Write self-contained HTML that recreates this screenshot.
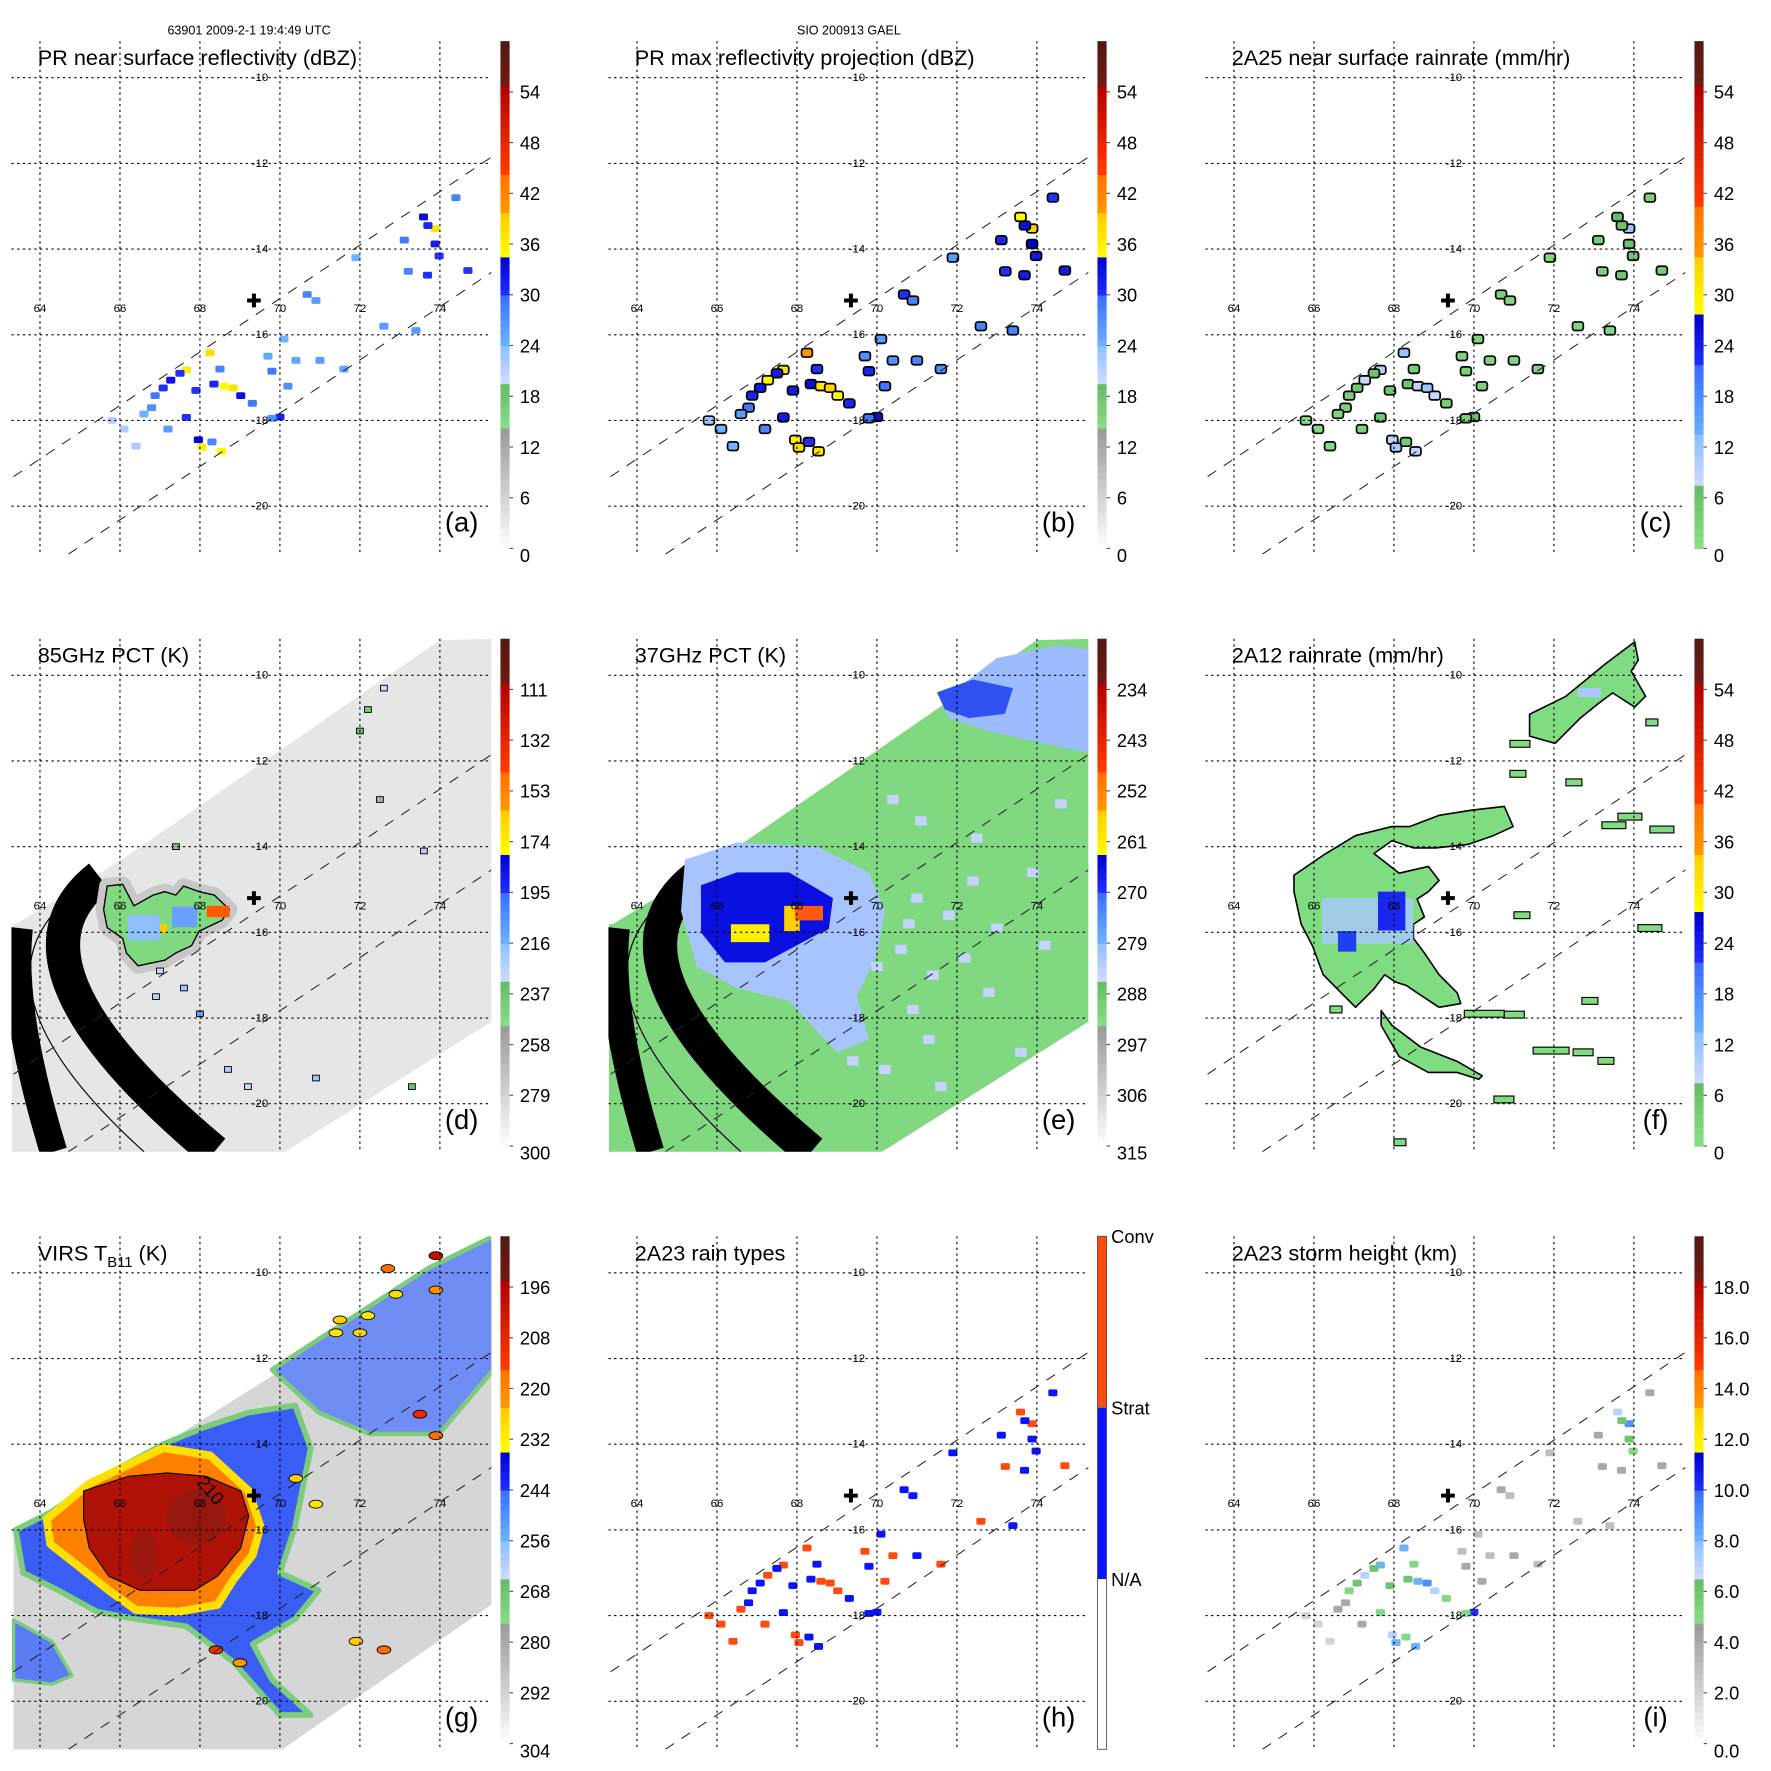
<!DOCTYPE html>
<html><head><meta charset="utf-8"><style>
body{margin:0;background:#fff}svg{display:block}
text{font-family:"Liberation Sans",sans-serif;fill:#000}
</style></head><body>
<svg id="fig" width="1771" height="1771" viewBox="0 0 1550 1550">
<text x="218" y="30" font-size="11" text-anchor="middle">63901 2009-2-1 19:4:49 UTC</text>
<text x="743" y="30" font-size="11" text-anchor="middle">SIO 200913 GAEL</text>
</svg>
<script>
const NS='http://www.w3.org/2000/svg';
// ---- data arrays ----
const lonTicks=[64,66,68,70,72,74];
const latTicks=[-10,-12,-14,-16,-18,-20];
const stormCenter=[69.35,-15.2];
const swathTopLon=[63.34,75.31], swathTopLat=[-19.31,-11.84];
const swathBotLon=[64.71,75.31], swathBotLat=[-21.12,-14.53];
const cellLon=[68.25,67.66,67.50,67.27,67.08,66.88,66.79,66.60,68.35,68.60,68.83,69.02,69.31,67.66,67.96,68.05,68.54,68.30,70.00,69.80,73.59,73.88,73.70,73.88,73.98,73.11,73.69,73.21,70.68,70.90,69.80,70.20,70.40,71.00,71.60,72.60,73.40,74.70,74.40,70.10,69.70,66.10,66.40,65.80,71.90,67.90,68.50,67.20];
const cellLat=[-16.42,-16.82,-16.90,-17.06,-17.24,-17.42,-17.70,-17.85,-17.15,-17.20,-17.24,-17.42,-17.60,-17.93,-18.45,-18.63,-18.72,-18.50,-17.92,-17.95,-13.25,-13.52,-13.45,-13.88,-14.16,-13.79,-14.61,-14.52,-15.06,-15.20,-16.85,-17.20,-16.60,-16.60,-16.80,-15.80,-15.90,-14.50,-12.80,-16.10,-16.50,-18.20,-18.60,-18.00,-14.20,-17.30,-16.80,-18.20];
const cellDbz=[38,36,30,33,30,29,27,24,31,35,37,33,29,30,34,36,35,28,31,27,33,37,31,32,30,29,30,28,28,26,29,27,25,26,25,26,26,30,28,24,25,22,22,21,24,30,28,26];
const cellRain=[12,10,6,8,5,4,3,2,5,9,12,8,4,5,9,11,9,4,6,3,7,12,6,6,5,4,5,3,3,2,3,3,2,2,2,2,2,4,3,2,2,1,1,1,2,5,4,3];
const cellType=[1,1,0,1,0,0,0,1,0,1,1,1,0,0,1,1,0,0,0,0,1,1,0,0,0,0,0,1,0,0,0,1,1,0,1,1,0,1,0,0,1,1,1,1,0,0,0,1];
const cellHgt=[8,8,6,7,6,5,4,4,6,8,9,7,5,5,7,8,8,5,10,5,7,9,6,6,5,4,4,4,4,3,4,4,3,4,3,3,3,4,4,3,3,2,2,2,3,6,5,4];
// 85 GHz (d)
const dSwathLon=[74.0,75.3,75.3,70.08,63.3,63.3,63.39,66.07], dSwathLat=[-9.18,-9.15,-18.08,-21.15,-21.15,-15.81,-15.81,-14.29];
const dBlobLon=[65.68,66.07,66.35,66.83,67.12,67.40,67.59,67.98,68.36,68.74,68.55,67.98,67.79,67.40,67.12,66.45,66.16,66.07,65.68,65.59];
const dBlobLat=[-14.92,-14.88,-15.38,-15.13,-15.05,-15.13,-14.92,-15.05,-15.13,-15.47,-15.72,-15.97,-16.31,-16.48,-16.65,-16.78,-16.48,-16.14,-15.89,-15.47];
const dSpotLon=[72.6,72.2,72.0,73.6,67.4,70.9,68.7,69.2,73.3,68.0,67.0,72.5,66.9,67.6];
const dSpotLat=[-10.3,-10.8,-11.3,-14.1,-14.0,-19.4,-19.2,-19.6,-19.6,-17.9,-16.9,-12.9,-17.5,-17.3];
const dSpotK=[230,240,235,225,240,220,225,230,235,210,230,260,225,220];
// 37 GHz (e)
const eLightLon=[65.2,66.5,68.5,69.8,70.2,70.0,69.5,69.8,69.0,67.8,66.5,65.5,65.1], eLightLat=[-14.3,-13.9,-14.0,-14.6,-15.5,-16.5,-17.5,-18.5,-18.8,-17.6,-17.3,-16.8,-15.5];
const eBlueLon=[65.6,66.5,67.8,68.9,68.8,68.0,67.2,66.2,65.6], eBlueLat=[-14.9,-14.6,-14.6,-15.2,-15.9,-16.3,-16.7,-16.7,-16.0];
const eNELon=[71.6,73.0,74.5,75.3,75.3,74.2,72.8,71.8], eNELat=[-10.6,-9.6,-9.3,-9.4,-11.8,-11.6,-11.3,-11.0];
const eNEBlueLon=[71.5,72.4,73.4,73.2,72.3,71.7], eNEBlueLat=[-10.4,-10.1,-10.3,-10.9,-11.0,-10.8];
const eSpotLon=[71.0,71.8,72.4,73.0,70.6,71.4,72.2,70.9,72.8,73.6,74.2,70.2,71.6,69.4,70.4,71.1,73.9,72.5,71.3,70.8,70.0,74.6];
const eSpotLat=[-15.2,-15.6,-14.8,-15.9,-16.4,-17.0,-16.6,-17.8,-17.4,-18.8,-16.3,-19.2,-19.6,-19.0,-12.9,-13.4,-14.6,-13.8,-18.5,-15.8,-16.8,-13.0];
const eYelLon=[66.35,67.31,67.31,66.35], eYelLat=[-15.81,-15.81,-16.23,-16.23];
const eYel2Lon=[67.68,68.07,68.07,67.68], eYel2Lat=[-15.38,-15.38,-15.97,-15.97];
const eRedLon=[67.95,68.65,68.65,67.95], eRedLat=[-15.38,-15.38,-15.72,-15.72];
// 2A12 (f)
const fMainLon=[65.50,66.23,67.04,67.95,68.40,69.13,69.94,70.76,70.98,70.49,69.85,69.04,68.49,67.95,67.50,68.13,68.86,69.13,68.86,68.58,68.76,68.49,68.49,68.76,69.13,69.58,69.67,69.13,68.58,68.31,68.04,67.77,67.50,67.04,66.68,66.23,65.96,65.68,65.50];
const fMainLat=[-14.67,-14.20,-13.74,-13.53,-13.53,-13.27,-13.15,-13.06,-13.53,-13.74,-13.95,-14.03,-14.03,-13.86,-14.16,-14.62,-14.46,-14.79,-15.05,-15.22,-15.64,-15.81,-16.14,-16.48,-16.99,-17.41,-17.66,-17.75,-17.41,-17.24,-17.16,-16.99,-17.32,-17.75,-17.41,-16.99,-16.31,-15.81,-15.05];
const fNELon=[71.39,72.30,73.29,74.02,74.11,73.93,74.29,74.02,73.47,73.11,72.66,72.03,71.39], fNELat=[-10.91,-10.49,-9.73,-9.22,-9.65,-9.90,-10.49,-10.74,-10.41,-10.66,-11.00,-11.59,-11.42];
const fArmLon=[67.68,67.95,68.67,69.58,70.21,70.12,69.58,68.86,68.13,67.68], fArmLat=[-17.83,-18.17,-18.68,-19.01,-19.35,-19.43,-19.27,-19.27,-18.90,-18.17];
const fBitLon=[69.76,70.76,71.48,72.48,73.2,73.6,74.4,70.9,72.3,74.3,74.1,66.4,71.0,72.7,73.1,68.0,70.5,70.9];
const fBitLat=[-17.9,-17.92,-18.76,-18.8,-13.5,-13.3,-13.6,-11.6,-12.5,-11.1,-15.9,-17.8,-15.6,-17.6,-19.0,-20.9,-19.9,-12.3];
const fBitW=[1.0,0.5,0.9,0.5,0.6,0.6,0.6,0.5,0.4,0.3,0.6,0.3,0.4,0.4,0.4,0.3,0.5,0.4];
// VIRS (g)
const gSwathLon=[63.34,75.34,75.34,70.0,63.34], gSwathLat=[-16.21,-9.14,-17.71,-21.16,-21.16];
const gBlueLon=[63.39,64.26,65.91,67.08,68.15,69.22,70.38,70.77,70.38,70.0,70.97,70.38,69.32,69.80,70.77,70.0,68.83,67.66,66.40,65.43,64.46,63.58];
const gBlueLat=[-16.0,-15.59,-14.59,-14.0,-13.59,-13.26,-13.09,-14.09,-15.92,-17.0,-17.41,-18.08,-18.66,-19.49,-20.32,-20.32,-19.08,-18.25,-18.08,-17.91,-17.41,-17.0];
const gWarmLon=[64.17,65.23,67.08,68.25,69.22,69.51,69.32,68.83,68.44,67.47,66.40,65.72,64.94,64.26];
const gWarmLat=[-15.75,-14.92,-14.09,-14.26,-15.09,-15.92,-16.58,-17.17,-17.75,-17.91,-17.87,-17.41,-16.83,-16.33];
const gColdLon=[65.09,66.21,67.18,68.15,69.02,69.22,69.02,68.44,67.86,67.18,66.50,65.72,65.23,65.09];
const gColdLat=[-15.09,-14.75,-14.67,-14.75,-15.09,-15.67,-16.42,-17.08,-17.41,-17.41,-17.41,-17.08,-16.42,-15.75];
const gNELon=[69.8,73.69,75.34,75.34,73.98,72.23,70.97], gNELat=[-12.26,-9.9,-9.14,-12.26,-13.76,-13.76,-13.26];
const gSWLon=[63.34,64.3,64.8,64.3,63.34], gSWLat=[-18.1,-18.6,-19.4,-19.6,-19.5];
const gHotLon=[72.7,73.9,73.9,72.9,71.5,72.2,72.0,71.4,73.5,73.9,70.4,70.9,68.4,69.0,71.9,72.6], gHotLat=[-9.9,-9.6,-10.4,-10.5,-11.1,-11.0,-11.4,-11.4,-13.3,-13.8,-14.8,-15.4,-18.8,-19.1,-18.6,-18.8];
const gHotK=[215,200,222,228,225,230,226,230,210,215,225,230,212,224,225,215];
// colour bar tick labels
const lblDbz=['0','6','12','18','24','30','36','42','48','54'];
const lbl85=['300','279','258','237','216','195','174','153','132','111'];
const lbl37=['315','306','297','288','279','270','261','252','243','234'];
const lblIR=['304','292','280','268','256','244','232','220','208','196'];
const lblHgt=['0.0','2.0','4.0','6.0','8.0','10.0','12.0','14.0','16.0','18.0'];
const lblType=['N/A','Strat','Conv'];

// ---- helpers ----
const svg=document.getElementById('fig');
function mk(tag,parent,attrs){const e=document.createElementNS(NS,tag);for(const k in attrs)e.setAttribute(k,attrs[k]);parent.appendChild(e);return e;}
const X=lon=>35+(lon-64)*35, Y=lat=>68+(-10-lat)*37.5;
const pts=(lo,la)=>lo.map((v,i)=>X(v).toFixed(1)+','+Y(la[i]).toFixed(1)).join(' ');
function hx(h){return[parseInt(h.substr(1,2),16),parseInt(h.substr(3,2),16),parseInt(h.substr(5,2),16)];}
function mixc(a,b,t){const A=hx(a),B=hx(b);return 'rgb('+A.map((v,i)=>Math.round(v+(B[i]-v)*t)).join(',')+')';}
const segA=[[0,0.235,'#ffffff','#9a9a9a'],[0.235,0.322,'#88e088','#66bd66'],[0.322,0.40,'#d4dcff','#8cc0ff'],[0.40,0.50,'#6ab4ff','#3a6cff'],[0.50,0.575,'#2030ff','#0000cc'],[0.575,0.66,'#ffff00','#ffcc00'],[0.66,0.743,'#ff9a00','#ff6e00'],[0.743,0.915,'#ff3a00','#b00000'],[0.915,1.01,'#6e1a12','#4e1a14']];
const segC=[[0,0.12,'#88e088','#66bd66'],[0.12,0.22,'#d4dcff','#8cc0ff'],[0.22,0.36,'#6ab4ff','#3a6cff'],[0.36,0.458,'#2030ff','#0000cc'],[0.458,0.576,'#ffff00','#ffcc00'],[0.576,0.68,'#ff9a00','#ff6e00'],[0.68,0.915,'#ff3a00','#b00000'],[0.915,1.01,'#6e1a12','#4e1a14']];
function cmap(seg,f){f=Math.max(0,Math.min(1,f));for(const s of seg){if(f>=s[0]&&f<s[1])return mixc(s[2],s[3],(f-s[0])/(s[1]-s[0]));}return seg[seg.length-1][3];}
const BT=36,BB=480,BH=BB-BT;

const panels=[
 {k:'a',ox:0,oy:0,title:'PR near surface reflectivity (dBZ)',lbl:lblDbz,seg:segA},
 {k:'b',ox:522.5,oy:0,title:'PR max reflectivity projection (dBZ)',lbl:lblDbz,seg:segA},
 {k:'c',ox:1045,oy:0,title:'2A25 near surface rainrate (mm/hr)',lbl:lblDbz,seg:segC},
 {k:'d',ox:0,oy:523,title:'85GHz PCT (K)',lbl:lbl85,seg:segA},
 {k:'e',ox:522.5,oy:523,title:'37GHz PCT (K)',lbl:lbl37,seg:segA},
 {k:'f',ox:1045,oy:523,title:'2A12 rainrate (mm/hr)',lbl:lblDbz,seg:segC},
 {k:'g',ox:0,oy:1046,title:'VIRS T',lbl:lblIR,seg:segA},
 {k:'h',ox:522.5,oy:1046,title:'2A23 rain types',lbl:null,seg:null},
 {k:'i',ox:1045,oy:1046,title:'2A23 storm height (km)',lbl:lblHgt,seg:segA}
];
const defs=mk('defs',svg,{});

function poly(g,lo,la,fill,stroke,sw){return mk('polygon',g,{points:pts(lo,la),fill:fill,stroke:stroke||'none','stroke-width':sw||1,'stroke-linejoin':'round'});}
function cells(g,fn,outline){
 cellLon.forEach((lo,i)=>{
  const cx=X(lo),cy=Y(cellLat[i]);
  if(outline){const o=mk('rect',g,{x:cx-5.5,y:cy-4.5,width:11,height:9,rx:3,fill:'#000'});
   
   }
  const r=mk('rect',g,{x:cx-4,y:cy-3,width:8,height:6,rx:1.5,fill:fn(i)});
  
  
 });
}

panels.forEach(p=>{
 const G=mk('g',svg,{transform:`translate(${p.ox},${p.oy})`});
 
 
 const cp=mk('clipPath',defs,{id:'clip-'+p.k});
 mk('rect',cp,{x:10,y:36,width:420,height:449});
 const M=mk('g',G,{'clip-path':`url(#clip-${p.k})`});
 
 

 // ----- fields -----
 if(p.k==='a'){cells(M,i=>cmap(segA,cellDbz[i]/60),false);}
 if(p.k==='b'){cells(M,i=>cmap(segA,(cellDbz[i]+2)/60),true);}
 if(p.k==='c'){cells(M,i=>cmap(segC,cellRain[i]/60),true);}
 if(p.k==='h'){cells(M,i=>cellType[i]?'#ff4a10':'#0a14ff',false);}
 if(p.k==='i'){cells(M,i=>cmap(segA,cellHgt[i]/20),false);}
 if(p.k==='d'||p.k==='e'){
  const base=p.k==='d'?'#e6e6e6':'#80d880';
  const sw=poly(M,dSwathLon,dSwathLat,base);
  
  
  const b2=mk('path',M,{d:`M${X(65.49)},${Y(-14.71)} Q-10,320 ${X(68.36)},${Y(-21.12)}`,fill:'none',stroke:'#000','stroke-width':30});
  
  
  const b1=mk('path',M,{d:`M${X(63.48)},${Y(-15.9)} Q8.75,361 ${X(64.34)},${Y(-21.12)}`,fill:'none',stroke:'#000','stroke-width':24});
  
  
  mk('path',M,{d:`M${X(65.0)},${Y(-15.0)} Q-40,335 ${X(66.6)},${Y(-21.12)}`,fill:'none',stroke:'#000','stroke-width':1});
  if(p.k==='d'){
   const h=poly(M,dBlobLon,dBlobLat,'#c0c0c0','#c8c8c8',14);
   
   
   const bl=poly(M,dBlobLon,dBlobLat,'#80d880','#000',1.2);
   
   
   mk('rect',M,{x:X(66.2),y:Y(-15.6),width:28,height:22,fill:'#8cc0ff'});
   mk('rect',M,{x:X(67.3),y:Y(-15.4),width:22,height:18,fill:'#6aa0ff'});
   mk('rect',M,{x:X(68.17),y:Y(-15.38),width:20,height:10,fill:'#ff5a00'});
   mk('rect',M,{x:X(67.0),y:Y(-15.8),width:6,height:8,fill:'#ffcc00'});
   dSpotLon.forEach((lo,i)=>{const s=mk('rect',M,{x:X(lo)-3,y:Y(dSpotLat[i])-2.5,width:6,height:5,fill:cmap(segA,(300-dSpotK[i])/210),stroke:'#000','stroke-width':0.8});
    
    });
  } else {
   const l=poly(M,eLightLon,eLightLat,'#a8c4ff');
   
   
   const b=poly(M,eBlueLon,eBlueLat,'#0a10e0');
   
   
   poly(M,eNELon,eNELat,'#9cbcff');
   poly(M,eNEBlueLon,eNEBlueLat,'#3050f0');
   eSpotLon.forEach((lo,i)=>{const s=mk('rect',M,{x:X(lo)-5,y:Y(eSpotLat[i])-4,width:10,height:8,fill:'#c4d4ff'});
    
    });
   poly(M,eYelLon,eYelLat,'#ffee00');
   poly(M,eYel2Lon,eYel2Lat,'#ffd000');
   poly(M,eRedLon,eRedLat,'#ff5a10');
  }
 }
 if(p.k==='f'){
  [[fMainLon,fMainLat,'main-rain-area'],[fNELon,fNELat,'ne-rain-area'],[fArmLon,fArmLat,'south-rain-band']].forEach(a=>{
   const q=poly(M,a[0],a[1],'#80dc80','#000',1.4);
   
   });
  mk('rect',M,{x:X(66.2),y:Y(-15.2),width:80,height:40,fill:'#a8c8ff',opacity:0.8});
  mk('rect',M,{x:X(67.6),y:Y(-15.05),width:24,height:34,fill:'#1828f0'});
  mk('rect',M,{x:X(66.6),y:Y(-15.97),width:16,height:18,fill:'#2040f0'});
  mk('rect',M,{x:X(72.6),y:Y(-10.3),width:20,height:8,fill:'#a8c8ff'});
  fBitLon.forEach((lo,i)=>{const s=mk('rect',M,{x:X(lo),y:Y(fBitLat[i])-3,width:fBitW[i]*35,height:6,fill:'#80dc80',stroke:'#000','stroke-width':1});
   
   });
 }
 if(p.k==='g'){
  const s=poly(M,gSwathLon,gSwathLat,'#d6d6d6');
  
  
  poly(M,gNELon,gNELat,'#6f8ef5','#7ccc7c',4);
  poly(M,gSWLon,gSWLat,'#5a7cf5','#7ccc7c',3);
  const b=poly(M,gBlueLon,gBlueLat,'#3a5ef5','#7ccc7c',5);
  
  
  const w=poly(M,gWarmLon,gWarmLat,'#ff8000','#ffe000',7);
  
  
  const c=poly(M,gColdLon,gColdLat,'#b01208','#000',1);
  
  
  mk('ellipse',M,{cx:X(67.9),cy:Y(-15.7),rx:26,ry:24,fill:'#8a1a10',opacity:0.7});
  mk('ellipse',M,{cx:X(66.6),cy:Y(-16.6),rx:12,ry:20,fill:'#8a1a10',opacity:0.6});
  gHotLon.forEach((lo,i)=>{const r=mk('ellipse',M,{cx:X(lo),cy:Y(gHotLat[i]),rx:6,ry:3.5,fill:cmap(segA,(304-gHotK[i])/120),stroke:'#000','stroke-width':0.8});
   
   });
  const t=mk('text',M,{x:X(67.9),y:Y(-14.9),'font-size':16,transform:`rotate(50 ${X(67.9)} ${Y(-14.9)})`});
  t.textContent='210';
 }

 // ----- grid -----
 lonTicks.forEach(lo=>{const l=mk('line',M,{x1:X(lo),y1:36,x2:X(lo),y2:485,stroke:'#000','stroke-width':1,'stroke-dasharray':'2,3'});
  
  
  const t=mk('text',G,{x:X(lo),y:Y(-15.2)+10,'font-size':10,'text-anchor':'middle'});t.textContent=String(lo);
  
  });
 latTicks.forEach(la=>{const l=mk('line',M,{x1:10,y1:Y(la),x2:430,y2:Y(la),stroke:'#000','stroke-width':1,'stroke-dasharray':'2,3'});
  
  
  const t=mk('text',G,{x:X(69.5),y:Y(la)+3,'font-size':10,'text-anchor':'middle'});t.textContent=String(la);
  
  });
 [[swathTopLon,swathTopLat],[swathBotLon,swathBotLat]].forEach(s=>{
  const l=mk('line',M,{x1:X(s[0][0]),y1:Y(s[1][0]),x2:X(s[0][1]),y2:Y(s[1][1]),stroke:'#222','stroke-width':0.9,'stroke-dasharray':'9,8'});
  
  });
 const cx=X(stormCenter[0]),cy=Y(stormCenter[1]);
 const cr=mk('path',G,{d:`M${cx-6},${cy}H${cx+6}M${cx},${cy-6}V${cy+6}`,stroke:'#000','stroke-width':3.5});
 
 

 // ----- title & letter -----
 const tt=mk('text',G,{x:33,y:57,'font-size':19});
 
 
 if(p.k==='g'){tt.textContent='VIRS T';const s=mk('tspan',tt,{'font-size':13,dy:6});s.textContent='B11';const s2=mk('tspan',tt,{dy:-6});s2.textContent=' (K)';}
 else tt.textContent=p.title;
 const lt=mk('text',G,{x:404,y:465,'font-size':24,'text-anchor':'middle'});lt.textContent='('+p.k+')';
 
 

 // ----- colour bar -----
 const CB=mk('g',G,{});
 
 
 if(p.seg){
  for(let i=0;i<80;i++){mk('rect',CB,{x:438,y:BB-BH*(i+1)/80,width:8,height:BH/80+0.6,fill:cmap(p.seg,(i+0.5)/80)});}
  p.lbl.forEach((s,i)=>{const y=BB-BH*i/10;
   mk('line',CB,{x1:446,y1:y,x2:449,y2:y,stroke:'#555','stroke-width':1});
   const t=mk('text',CB,{x:455,y:y+(i===0?12:6),'font-size':16});t.textContent=s;
   
   });
 } else {
  mk('rect',CB,{x:438,y:BT,width:8,height:150,fill:'#ff4a10'});
  mk('rect',CB,{x:438,y:BT+150,width:8,height:150,fill:'#0a14ff'});
  mk('rect',CB,{x:438,y:BT+300,width:8,height:BH-300+5,fill:'#fff'});
  mk('rect',CB,{x:438,y:BT,width:8,height:BH+5,fill:'none',stroke:'#555','stroke-width':0.8});
  lblType.forEach((s,i)=>{const t=mk('text',CB,{x:450,y:BT+300-150*i+6,'font-size':16});t.textContent=s;
   
   });
 }
});
</script>
</body></html>
